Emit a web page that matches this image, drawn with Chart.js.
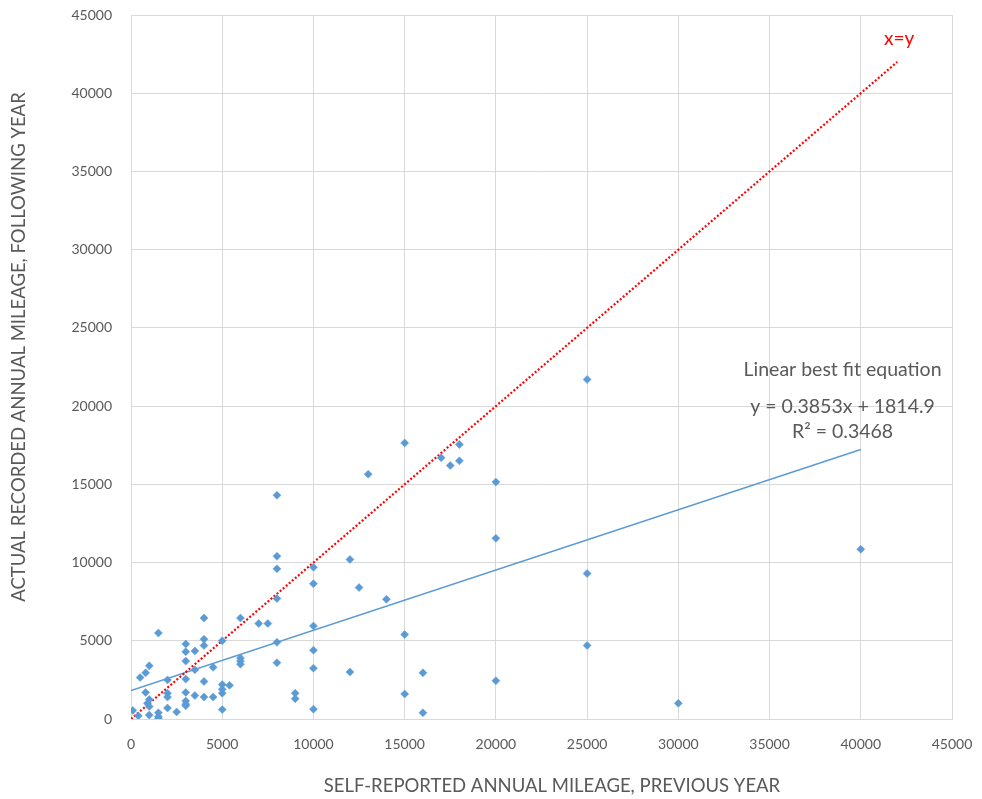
<!DOCTYPE html>
<html>
<head>
<meta charset="utf-8">
<title>Mileage scatter</title>
<script src="https://cdn.jsdelivr.net/npm/chart.js@4"></script>
<style>
  body { margin: 0; background: #fff; }
  #wrap { width: 982px; height: 799px; }
</style>
</head>
<body>
<div id="wrap"><canvas id="canvas1"></canvas></div>
<script>
// self-reported mileage (previous year) vs recorded mileage (following year)
var reportedMiles = [
  100, 400, 500, 800, 1000, 800, 1000, 900, 1000, 1000,
  1500, 1500, 1500, 1500, 2000, 2000, 2000, 2000, 2500, 3000,
  3000, 3000, 3000, 3000, 3000, 3000, 3000, 3500, 3500, 3500,
  4000, 4000, 4000, 4000, 4000, 4500, 4500, 5000, 5000, 5000,
  5000, 5000, 5400, 6000, 6000, 6000, 6000, 7000, 7500, 8000,
  8000, 8000, 8000, 8000, 8000, 9000, 9000, 10000, 10000, 10000,
  10000, 10000, 10000, 12000, 12000, 12500, 14000, 13000, 15000, 15000,
  15000, 16000, 16000, 17000, 17500, 18000, 18000, 20000, 20000, 20000,
  25000, 25000, 25000, 30000, 40000
];
var recordedMiles = [
  550, 200, 2650, 2950, 3400, 1700, 1250, 1000, 800, 250,
  400, 150, 30, 5500, 2500, 1650, 1400, 700, 450, 4800,
  4300, 3700, 2550, 1700, 1150, 950, 850, 4350, 3150, 1500,
  6450, 5100, 4700, 2400, 1400, 3300, 1400, 5000, 2200, 1900,
  1650, 600, 2150, 6450, 3900, 3700, 3500, 6100, 6100, 14300,
  10400, 9600, 7700, 4900, 3600, 1650, 1300, 9700, 8650, 5950,
  4400, 3250, 630, 10200, 3000, 8400, 7650, 15650, 17650, 5400,
  1600, 2950, 400, 16700, 16200, 17550, 16500, 15150, 11550, 2450,
  21700, 9300, 4700, 1000, 10850
];

// trend line y = 0.3853x + 1814.9 (end points) and the x=y reference
var fitX = [0, 40000];
var fitY = [1814.9, 17226.9];
var diagX = [0, 42000];
var diagY = [0, 42000];

var tickValues = [0, 5000, 10000, 15000, 20000, 25000, 30000, 35000, 40000, 45000];

var fitLabel = ["Linear best fit equation", "y = 0.3853x + 1814.9", "R\u00b2 = 0.3468"];
var diagLabel = "x=y";
var xTitle = "SELF-REPORTED ANNUAL MILEAGE, PREVIOUS YEAR";
var yTitle = "ACTUAL RECORDED ANNUAL MILEAGE, FOLLOWING YEAR";

function toPoints(xs, ys) {
  var pts = [];
  for (let i = 0; i < xs.length; i++) {
    pts.push({ x: xs[i], y: ys[i] });
  }
  return pts;
}

var textGray = "#595959";
var font = "Lato";

// draws axis titles, the equation text and the x=y tag
var notesPlugin = {
  id: "notes",
  afterDatasetsDraw: function (chart) {
    var ctx = chart.ctx;
    var sx = chart.scales.x;
    var sy = chart.scales.y;
    ctx.save();
    ctx.textAlign = "center";
    ctx.textBaseline = "middle";

    ctx.fillStyle = "#ff0000";
    ctx.font = "19px " + font;
    ctx.fillText(diagLabel, sx.getPixelForValue(42100), sy.getPixelForValue(43450));

    ctx.fillStyle = textGray;
    ctx.font = "19.5px " + font;
    ctx.fillText(fitLabel[0], sx.getPixelForValue(39000), sy.getPixelForValue(22320));
    ctx.fillText(fitLabel[1], sx.getPixelForValue(39000), sy.getPixelForValue(19960));
    ctx.fillText(fitLabel[2], sx.getPixelForValue(39000), sy.getPixelForValue(18370));

    // axis titles
    ctx.font = "18.5px " + font;
    ctx.fillText(xTitle, 552, 786);
    ctx.translate(19, 347);
    ctx.rotate(-Math.PI / 2);
    ctx.fillText(yTitle, 0, 0);
    ctx.restore();
  },
};

var data = {
  datasets: [
    {
      label: "x=y",
      type: "line",
      data: toPoints(diagX, diagY),
      borderColor: "#ff0000",
      borderWidth: 2.2,
      borderDash: [2, 2],
      pointRadius: 0,
      fill: false,
      order: 2,
    },
    {
      label: "Linear best fit",
      type: "line",
      data: toPoints(fitX, fitY),
      borderColor: "#5b9bd5",
      borderWidth: 1.5,
      pointRadius: 0,
      fill: false,
      order: 3,
    },
    {
      label: "Drivers",
      type: "scatter",
      data: toPoints(reportedMiles, recordedMiles),
      pointStyle: "rectRot",
      pointRadius: 4,
      backgroundColor: "#5b9bd5",
      borderColor: "#5b9bd5",
      borderWidth: 0.5,
      order: 1,
    },
  ],
};

var options = {
  responsive: false,
  animation: false,
  devicePixelRatio: 1,
  layout: { padding: { top: 15, right: 30, left: 0, bottom: 0 } },
  plugins: {
    legend: { display: false },
    tooltip: { enabled: false },
  },
  scales: {
    x: {
      type: "linear",
      min: 0,
      max: 45000,
      afterBuildTicks: function (s) {
        s.ticks = tickValues.map((v) => ({ value: v }));
      },
      afterFit: function (s) {
        s.height = 80;
        s.paddingLeft = 0;
        s.paddingRight = 0;
      },
      grid: { color: "#d9d9d9", lineWidth: 1, drawTicks: false },
      border: { display: true, color: "#d9d9d9" },
      ticks: {
        padding: 17,
        color: textGray,
        font: { family: font, size: 14 },
        maxRotation: 0,
        autoSkip: false,
        callback: (v) => String(v),
      },
    },
    y: {
      type: "linear",
      min: 0,
      max: 45000,
      afterBuildTicks: function (s) {
        s.ticks = tickValues.map((v) => ({ value: v }));
      },
      afterFit: function (s) {
        s.width = 131;
        s.paddingTop = 0;
        s.paddingBottom = 0;
      },
      grid: { color: "#d9d9d9", lineWidth: 1, drawTicks: false },
      border: { display: false },
      ticks: {
        padding: 19,
        color: textGray,
        font: { family: font, size: 14 },
        autoSkip: false,
        callback: (v) => String(v),
      },
    },
  },
};

var canvas = document.getElementById("canvas1");
canvas.width = 982;
canvas.height = 799;
var chart = new Chart(canvas, {
  type: "scatter",
  data: data,
  options: options,
  plugins: [notesPlugin],
});
</script>
</body>
</html>
